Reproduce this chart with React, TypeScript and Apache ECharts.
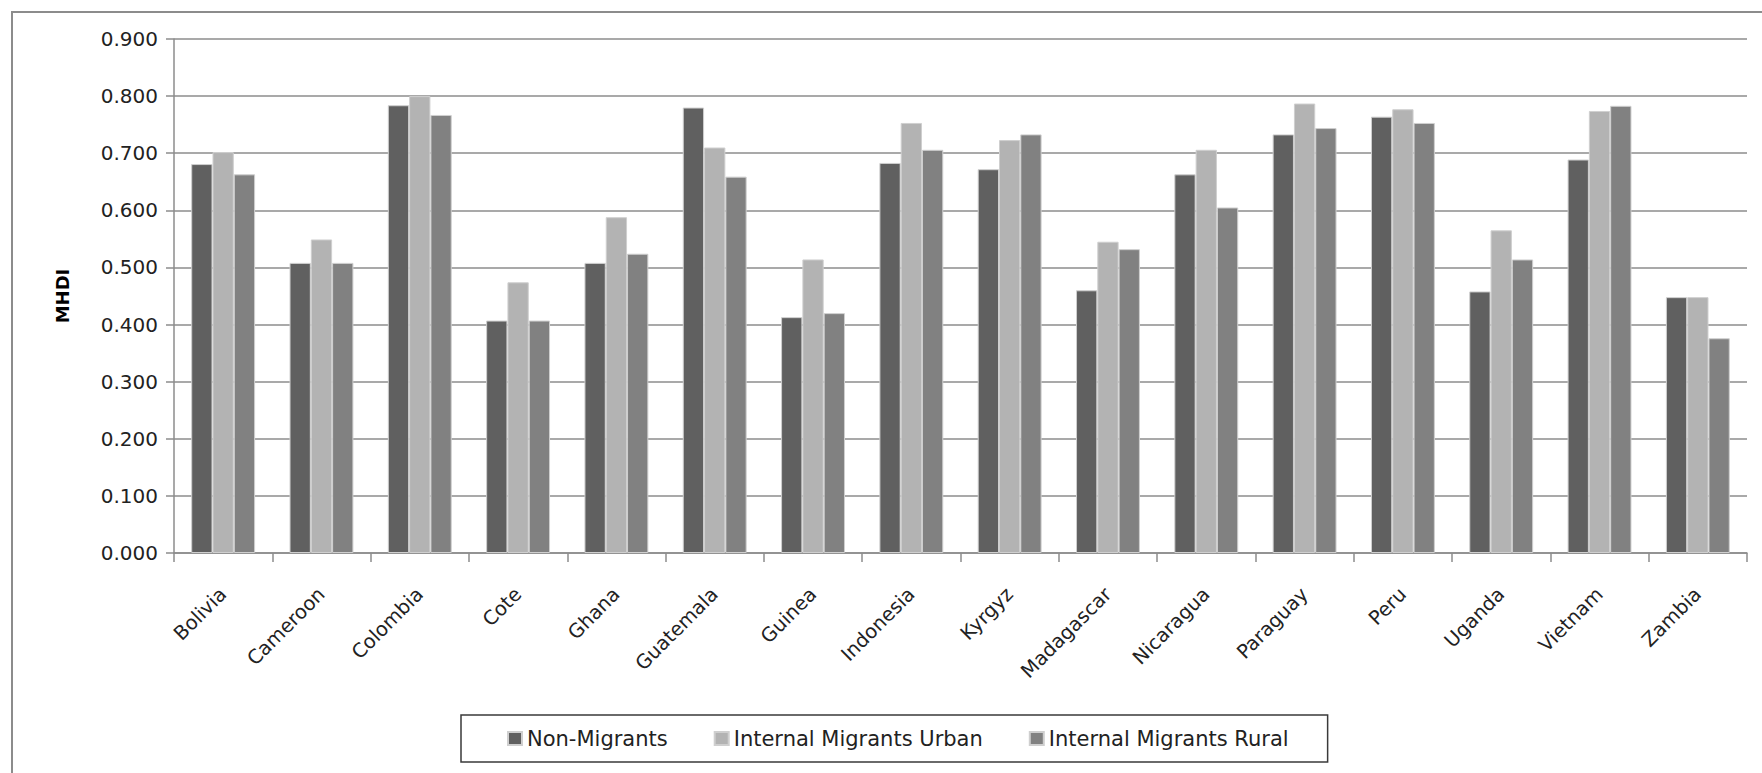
import React, { useEffect, useRef } from "react";
import * as echarts from "echarts";

const categories = [
  "Bolivia", "Cameroon", "Colombia", "Cote", "Ghana", "Guatemala", "Guinea", "Indonesia",
  "Kyrgyz", "Madagascar", "Nicaragua", "Paraguay", "Peru", "Uganda", "Vietnam", "Zambia",
];

const nonMigrants = [0.681, 0.508, 0.784, 0.407, 0.508, 0.780, 0.413, 0.683, 0.672, 0.460, 0.663, 0.733, 0.764, 0.458, 0.689, 0.448];
const urbanMigrants = [0.702, 0.549, 0.800, 0.474, 0.588, 0.710, 0.514, 0.753, 0.723, 0.545, 0.706, 0.787, 0.777, 0.565, 0.774, 0.448];
const ruralMigrants = [0.663, 0.508, 0.767, 0.407, 0.524, 0.659, 0.420, 0.706, 0.733, 0.532, 0.605, 0.744, 0.753, 0.514, 0.783, 0.376];

const seriesNames = ["Non-Migrants", "Internal Migrants Urban", "Internal Migrants Rural"];
const seriesColors = ["#606060", "#b3b3b3", "#818181"];

const FONT = "DejaVu Sans";

export default function App() {
  const ref = useRef<HTMLDivElement>(null);

  useEffect(() => {
    if (!ref.current) return;
    const chart = echarts.init(ref.current, null, { renderer: "svg" });
    const data = [nonMigrants, urbanMigrants, ruralMigrants];
    chart.setOption({
      animation: false,
      backgroundColor: "#ffffff",
      textStyle: { fontFamily: FONT },
      graphic: [
        {
          type: "rect",
          shape: { x: 12, y: 12, width: 1780, height: 800 },
          style: { fill: "none", stroke: "#8c8c8c", lineWidth: 2 },
          silent: true,
        },
      ],
      grid: { left: 174, right: 15, top: 39, bottom: 220, containLabel: false },
      legend: {
        data: seriesNames,
        left: 461,
        top: 715,
        orient: "horizontal",
        icon: "rect",
        itemWidth: 14,
        itemHeight: 13,
        itemGap: 46,
        padding: [13, 39, 13, 46],
        borderColor: "#3a3a3a",
        borderWidth: 1.5,
        textStyle: { fontFamily: FONT, fontSize: 21, color: "#222" },
      },
      xAxis: {
        type: "category",
        data: categories,
        axisLine: { show: true, lineStyle: { color: "#8c8c8c", width: 1.5 } },
        axisTick: { show: true, length: 9, lineStyle: { color: "#8c8c8c", width: 1.5 } },
        axisLabel: {
          rotate: 45,
          interval: 0,
          margin: 38,
          fontFamily: FONT,
          fontSize: 19.5,
          color: "#222",
        },
        splitLine: { show: false },
      },
      yAxis: {
        type: "value",
        min: 0,
        max: 0.9,
        interval: 0.1,
        name: "MHDI",
        nameLocation: "middle",
        nameGap: 103,
        nameRotate: 90,
        nameTextStyle: { fontFamily: FONT, fontSize: 18, fontWeight: "bold", color: "#000" },
        axisLine: { show: true, lineStyle: { color: "#8c8c8c", width: 1.5 } },
        axisTick: { show: true, length: 8, lineStyle: { color: "#8c8c8c", width: 1.5 } },
        axisLabel: {
          margin: 16,
          fontFamily: FONT,
          fontSize: 20,
          color: "#222",
          formatter: (v: number) => v.toFixed(3),
        },
        splitLine: { show: true, lineStyle: { color: "#8c8c8c", width: 1.5 } },
      },
      series: seriesNames.map((name, i) => ({
        name,
        type: "bar",
        data: data[i],
        barGap: "0%",
        barCategoryGap: "35%",
        itemStyle: { color: seriesColors[i], borderColor: "#cfcfcf", borderWidth: 1 },
      })),
    });
    return () => chart.dispose();
  }, []);

  return (
    <div
      ref={ref}
      style={{ position: "absolute", left: 0, top: 0, width: 1762, height: 773 }}
    />
  );
}
